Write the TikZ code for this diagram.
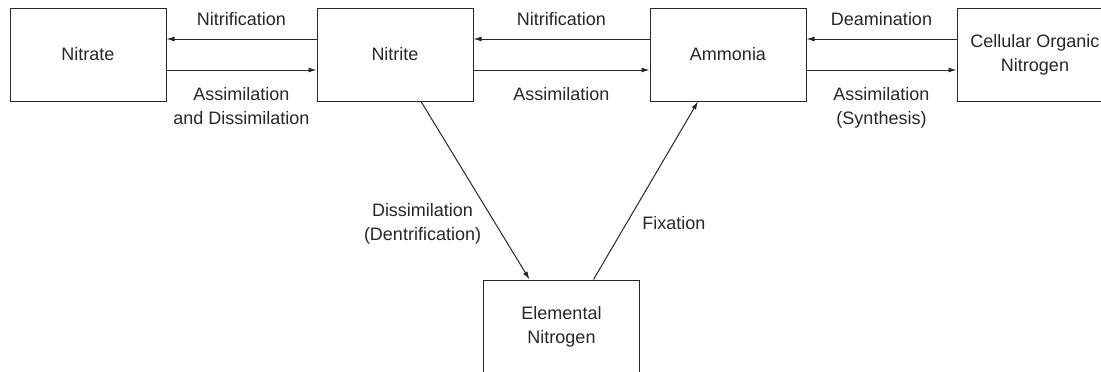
\documentclass[tikz,border=0pt]{standalone}
\usepackage{fontspec}
\setmainfont{Liberation Sans}
\usetikzlibrary{arrows.meta, positioning, calc}

\begin{document}
\begin{tikzpicture}[
		x=1pt, y=1pt,
		node distance=150pt,
		every node/.style={text=black!85, font=\fontsize{18}{24}\selectfont},
		box/.style={draw=black!85, rectangle, line width=1pt, align=center, minimum width=156pt, minimum height=93pt},
		arrow/.style={-{Latex[length=8pt, width=5pt]}, line width=1pt, draw=black!85},
		lbl/.style={align=center}
		]
		\useasboundingbox (0,0) rectangle (1101,-372);
		\clip (0,0) rectangle (1101,-372);
		
		% Nodes
		\node[box] (nitrate) at (88,-54.5) {Nitrate};
		\node[box, right=of nitrate] (nitrite) {Nitrite};
		\node[box, right=176pt of nitrite] (ammonia) {Ammonia};
		\node[box, right=of ammonia] (cellular) {Cellular Organic\\ Nitrogen};
		\node[box, below=178pt of $(nitrite.south)!0.5!(ammonia.south)$] (elemental) {Elemental\\ Nitrogen};
		
		% Arrows
		\draw[arrow] ([yshift=15.5pt]nitrite.west) -- node[lbl, above=9pt] {Nitrification} ([yshift=15.5pt]nitrate.east);
		\draw[arrow] ([yshift=-15.5pt]nitrate.east) -- node[lbl, below=14pt] {Assimilation\\ and Dissimilation} ([yshift=-15.5pt]nitrite.west);
		\draw[arrow] ([yshift=15.5pt]ammonia.west) -- node[lbl, above=9pt] {Nitrification} ([yshift=15.5pt]nitrite.east);
		\draw[arrow] ([yshift=-15.5pt]nitrite.east) -- node[lbl, below=14pt] {Assimilation} ([yshift=-15.5pt]ammonia.west);
		\draw[arrow] ([yshift=15.5pt]cellular.west) -- node[lbl, above=9pt] {Deamination} ([yshift=15.5pt]ammonia.east);
		\draw[arrow] ([yshift=-15.5pt]ammonia.east) -- node[lbl, below=14pt] {Assimilation\\ (Synthesis)} ([yshift=-15.5pt]cellular.west);
		\draw[arrow] ([xshift=26pt]nitrite.south) -- node[lbl, pos=0.69, left=11pt] {Dissimilation\\ (Dentrification)} ([xshift=-32pt]elemental.north);
		\draw[arrow] ([xshift=32pt]elemental.north) -- node[lbl, pos=0.315, right=12pt] {Fixation} ([xshift=-30pt]ammonia.south);
	\end{tikzpicture}
\end{document}
